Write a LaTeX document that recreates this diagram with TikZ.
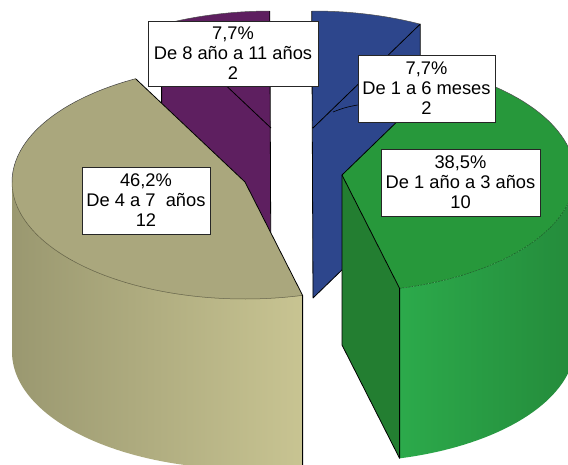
\documentclass[tikz,border=0pt]{standalone}
\usepackage{fontspec}
\setmainfont{Liberation Sans}
\definecolor{purp}{HTML}{5E1F60}
\definecolor{blu}{HTML}{2D468C}
\definecolor{grntop}{HTML}{27983B}
\definecolor{grncut}{HTML}{237E31}
\definecolor{grnsideL}{HTML}{2CAA4B}
\definecolor{grnsideR}{HTML}{248B3B}
\definecolor{grnline}{HTML}{145A22}
\definecolor{tantop}{HTML}{AAA77D}
\definecolor{tansideL}{HTML}{9A9870}
\definecolor{tansideM}{HTML}{BEBA87}
\definecolor{tansideR}{HTML}{C8C492}
\definecolor{tanline}{HTML}{5E5C40}
\tikzset{
  edge/.style={black, line width=0.8pt, line join=round},
  rimline/.style={line width=0.5pt},
  lbl/.style={draw=black!85, line width=0.8pt, fill=white, align=center, inner sep=0pt,
              font=\fontsize{18.3}{20}\selectfont}
}
\begin{document}
\begin{tikzpicture}[x=1pt,y=-1pt]
\def\ra{233}\def\rb{117}
\useasboundingbox (0,0) rectangle (568,464);
\begin{scope}
\clip (0,0) rectangle (568,464);
% ---------- purple slice ----------
\fill[purp] plot[domain=90.3:118,samples=30] ({271+\ra*cos(\x)},{128-\rb*sin(\x)})
   -- (161.6,194.7) -- (271,298) -- cycle;
\draw[rimline,black!70] plot[domain=90.3:118,samples=30] ({271+\ra*cos(\x)},{128-\rb*sin(\x)});
\draw[edge] (161.6,24.7) -- (271,128);
\draw[edge] (161.6,24.7) -- (161.6,194.7) -- (271,298) -- (269.8,11);
% ---------- blue slice ----------
\fill[blu] plot[domain=62.6:90.3,samples=30] ({313+\ra*cos(\x)},{128-\rb*sin(\x)})
   -- (313,298) -- (420.2,194.1) -- cycle;
\draw[rimline,black!70] plot[domain=62.6:90.3,samples=30] ({313+\ra*cos(\x)},{128-\rb*sin(\x)});
\draw[edge] (311.8,11) -- (313,298) -- (420.2,194.1) -- (420.2,24.1) -- (313,128);
% ---------- green slice ----------
\shade[left color=grnsideL, right color=grnsideR]
   plot[domain=-75.7:0,samples=40] ({342+\ra*cos(\x)},{175-\rb*sin(\x)})
   -- plot[domain=0:-75.7,samples=40] ({342+\ra*cos(\x)},{345-\rb*sin(\x)}) -- cycle;
\fill[grncut] (342,175) -- (399.6,288.4) -- (399.6,458.4) -- (342,345) -- cycle;
\fill[grntop] (342,175) -- plot[domain=62.6:-75.7,samples=60] ({342+\ra*cos(\x)},{175-\rb*sin(\x)}) -- cycle;
\draw[rimline,grnline,dash pattern=on 2pt off 1pt] plot[domain=-75.7:0,samples=40] ({342+\ra*cos(\x)},{175-\rb*sin(\x)});
\draw[rimline,black!70] plot[domain=0:62.6,samples=30] ({342+\ra*cos(\x)},{175-\rb*sin(\x)});
\draw[edge] (449.2,71.1) -- (342,175) -- (399.6,288.4) -- (399.6,458.4);
\draw[edge] (342,175) -- (342,345) -- (399.6,458.4);
% ---------- tan slice ----------
\shade[left color=tansideL, middle color=tansideM, right color=tansideR]
   plot[domain=180:284.3,samples=60] ({245+\ra*cos(\x)},{182-\rb*sin(\x)})
   -- plot[domain=284.3:180,samples=60] ({245+\ra*cos(\x)},{352-\rb*sin(\x)}) -- cycle;
\fill[tantop] (245,182) -- plot[domain=118:284.3,samples=80] ({245+\ra*cos(\x)},{182-\rb*sin(\x)}) -- cycle;
\draw[rimline,tanline] plot[domain=180:284.3,samples=60] ({245+\ra*cos(\x)},{182-\rb*sin(\x)});
\draw[rimline,black!75] plot[domain=118:180,samples=40] ({245+\ra*cos(\x)},{182-\rb*sin(\x)});
\draw[edge] (135.6,78.7) -- (245,182) -- (302.6,295.4) -- (302.6,470);
\end{scope}
% ---------- labels ----------
\node[lbl, minimum width=170pt, minimum height=65pt] (lpurple) at (233,53.5) {7,7\%\\De 8 año a 11 años\\2};
\node[lbl, minimum width=137pt, minimum height=67pt] (lblue) at (426.5,88.5) {7,7\%\\De 1 a 6 meses\\2};
\node[lbl, minimum width=159pt, minimum height=67pt] (lgreen) at (460.5,182.5) {38,5\%\\De 1 año a 3 años\\10};
\node[lbl, minimum width=128pt, minimum height=67pt] (ltan) at (146,200.5) {46,2\%\\De 4 a 7~ años\\12};
\coordinate (bluetip) at (333,112);
\draw[line width=0.6pt] (bluetip) to[bend left=6] ([yshift=-16.5pt]lblue.west);
\end{tikzpicture}
\end{document}
